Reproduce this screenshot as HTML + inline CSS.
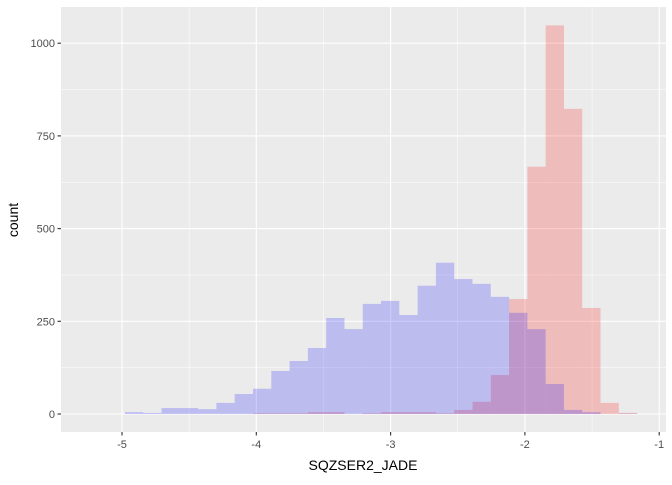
<!DOCTYPE html>
<html><head><meta charset="utf-8"><style>
body{margin:0;background:#fff;}
svg text{font-family:"Liberation Sans",Arial,sans-serif;}
</style></head><body>
<svg id="chart" width="672" height="480" viewBox="0 0 672 480" xmlns="http://www.w3.org/2000/svg">
<rect x="61" y="7" width="605" height="425" fill="#EBEBEB"/>
<g id="grid"></g>
<g id="bars"></g>
<g id="axes"></g>
<text x="363" y="470" text-anchor="middle" font-size="14" fill="#000">SQZSER2_JADE</text>
<text transform="translate(18,220) rotate(-90)" text-anchor="middle" font-size="14" fill="#000">count</text>
</svg>
<script>
const binStart = -4.978;
const binWidth = 0.1362;
const redCounts = [0,0,0,0,0,0,0,2,2,2,5,5,0,2,5,5,5,2,11,33,105,310,667,1048,823,286,30,3];
const blueCounts = [5,3,16,16,13,30,54,68,116,143,178,259,229,297,305,267,346,408,364,351,316,273,229,81,11,5,0,1];
const xTicks = [-5,-4,-3,-2,-1];
const xMinor = [-4.5,-3.5,-2.5,-1.5];
const yTicks = [0,250,500,750,1000];
const yMinor = [125,375,625,875];

const NS = "http://www.w3.org/2000/svg";
const xs = v => 122 + (v + 5) * 134.3;
const ys = c => 414 - c * 0.3708;
function mk(tag, attrs, parent){const e=document.createElementNS(NS,tag);for(const k in attrs)e.setAttribute(k,attrs[k]);parent.appendChild(e);return e;}
const grid=document.getElementById('grid'), bars=document.getElementById('bars'), axes=document.getElementById('axes');
xMinor.forEach(v=>{const l=mk('line',{x1:xs(v),x2:xs(v),y1:7,y2:432,stroke:'#fff','stroke-width':0.5},grid);

});
yMinor.forEach(v=>{const l=mk('line',{x1:61,x2:666,y1:ys(v),y2:ys(v),stroke:'#fff','stroke-width':0.5},grid);

});
xTicks.forEach(v=>{const l=mk('line',{x1:xs(v),x2:xs(v),y1:7,y2:432,stroke:'#fff','stroke-width':1.1},grid);


const t=mk('line',{x1:xs(v),x2:xs(v),y1:432,y2:435.5,stroke:'#333','stroke-width':1.1},axes);


const tx=mk('text',{x:xs(v),y:448,'text-anchor':'middle','font-size':11,fill:'#4D4D4D'},axes);tx.textContent=String(v).replace('-','-');

});
yTicks.forEach(v=>{const l=mk('line',{x1:61,x2:666,y1:ys(v),y2:ys(v),stroke:'#fff','stroke-width':1.1},grid);


const t=mk('line',{x1:57.5,x2:61,y1:ys(v),y2:ys(v),stroke:'#333','stroke-width':1.1},axes);


const tx=mk('text',{x:55,y:ys(v)+4,'text-anchor':'end','font-size':11,fill:'#4D4D4D'},axes);tx.textContent=v;

});
function drawSeries(counts, color, name){
  counts.forEach((c,i)=>{
    if(c<=0) return;
    const x0=xs(binStart+i*binWidth), x1=xs(binStart+(i+1)*binWidth);
    const r=mk('rect',{x:x0,y:ys(c),width:x1-x0,height:ys(0)-ys(c),fill:color,'fill-opacity':0.2},bars);
    
    
  });
}
drawSeries(redCounts,'#FF0000','red-bar');
drawSeries(blueCounts,'#0000FF','blue-bar');
</script>
</body></html>
